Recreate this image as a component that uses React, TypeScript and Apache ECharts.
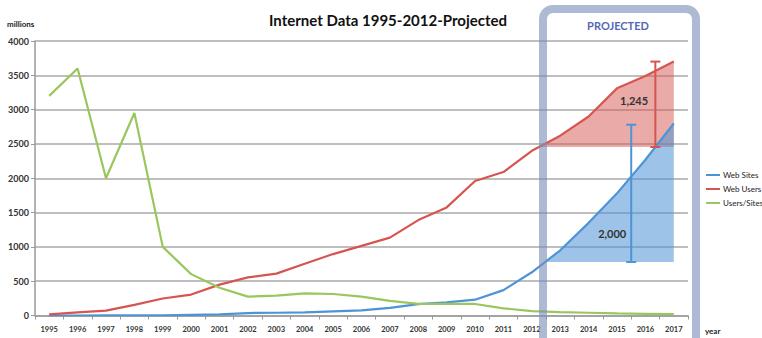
import React, { useEffect, useRef } from "react";
import * as echarts from "echarts";

// Years on the category axis
const years = [
  "1995", "1996", "1997", "1998", "1999", "2000", "2001", "2002", "2003", "2004", "2005", "2006",
  "2007", "2008", "2009", "2010", "2011", "2012", "2013", "2014", "2015", "2016", "2017",
];

// Values in millions
const webSites = [0, 0, 1, 2, 4, 10, 15, 36, 40, 45, 60, 75, 110, 165, 190, 230, 370, 630, 950, 1350, 1780, 2270, 2800];
const webUsers = [16, 45, 72, 155, 248, 305, 450, 555, 610, 755, 895, 1015, 1135, 1390, 1575, 1960, 2090, 2400, 2620, 2900, 3310, 3490, 3700];
const usersPerSite = [3200, 3600, 2000, 2950, 1000, 603, 405, 275, 290, 322, 313, 275, 212, 170, 170, 168, 105, 65, 50, 40, 30, 25, 20];

// Projected growth brackets
const projectedStart = "2012";
const sitesGain = 2000;
const sitesGainTop = 2780;
const usersGain = 1245;
const usersGainTop = 3700;

const BLUE = "#4d94d6";
const RED = "#d6564f";
const GREEN = "#9bc55d";
const FONT = "Lato, 'Open Sans', sans-serif";

function xAt(api: any, f: number) {
  const i0 = Math.floor(f);
  const i1 = Math.ceil(f);
  const p0 = api.coord([i0, 0])[0];
  const p1 = api.coord([i1, 0])[0];
  return p0 + (p1 - p0) * (f - i0);
}

// Shaded region between a series and a horizontal base level, from the projection start onwards
function gainArea(values: number[], base: number, fill: string) {
  const start = years.indexOf(projectedStart);
  return (params: any, api: any) => {
    if (params.dataIndex !== 0) return null;
    const yBase = api.coord([0, base])[1];
    const pts: number[][] = [];
    for (let i = start; i < values.length; i++) {
      const v = values[i];
      if (i > start) {
        const prev = values[i - 1];
        if ((prev - base) * (v - base) < 0) {
          const t = (base - prev) / (v - prev);
          pts.push([xAt(api, i - 1 + t), yBase]);
        }
      }
      if (v >= base) pts.push(api.coord([i, v]));
    }
    const lastX = api.coord([values.length - 1, 0])[0];
    pts.push([lastX, yBase]);
    return { type: "polygon", shape: { points: pts }, style: { fill } };
  };
}

// Vertical bracket with caps and a value label
function bracket(pos: number, top: number, gain: number, color: string, labelPos: number, labelVal: number) {
  return (params: any, api: any) => {
    if (params.dataIndex !== 0) return null;
    const x = xAt(api, pos);
    const yTop = api.coord([0, top])[1];
    const yBot = api.coord([0, top - gain])[1];
    const lx = xAt(api, labelPos);
    const ly = api.coord([0, labelVal])[1];
    const ls = { stroke: color, lineWidth: 2 };
    return {
      type: "group",
      children: [
        { type: "line", shape: { x1: x, y1: yTop, x2: x, y2: yBot }, style: ls },
        { type: "line", shape: { x1: x - 5, y1: yTop, x2: x + 5, y2: yTop }, style: ls },
        { type: "line", shape: { x1: x - 5, y1: yBot, x2: x + 5, y2: yBot }, style: ls },
        {
          type: "text",
          x: lx,
          y: ly,
          style: {
            text: gain.toLocaleString("en-US"),
            fill: "#333",
            font: `bold 11px ${FONT}`,
            align: "center",
            verticalAlign: "middle",
          },
        },
      ],
    };
  };
}

export default function App() {
  const ref = useRef<HTMLDivElement>(null);

  useEffect(() => {
    if (!ref.current) return;
    const chart = echarts.init(ref.current, undefined, { renderer: "svg" });
    const startIdx = years.indexOf(projectedStart);

    chart.setOption({
      animation: false,
      backgroundColor: "#ffffff",
      grid: { left: 35, right: 74, top: 41, bottom: 22.5 },
      legend: {
        orient: "vertical",
        left: 701,
        top: 166,
        itemGap: 6,
        itemWidth: 14,
        itemHeight: 2,
        icon: "rect",
        textStyle: { fontSize: 8, color: "#222", fontFamily: FONT, padding: [0, 0, 0, -2] },
        data: ["Web Sites", "Web Users", "Users/Sites"],
      },
      xAxis: {
        type: "category",
        data: years,
        boundaryGap: true,
        axisLine: { lineStyle: { color: "#9a9a9a", width: 1.5 } },
        axisTick: { show: true, length: 4, lineStyle: { color: "#9a9a9a" } },
        axisLabel: { interval: 0, fontSize: 7.5, color: "#333", fontWeight: "bold", fontFamily: FONT, margin: 10 },
      },
      yAxis: {
        type: "value",
        min: 0,
        max: 4000,
        interval: 500,
        axisLine: { show: true, lineStyle: { color: "#9a9a9a", width: 1.5 } },
        axisTick: { show: true, length: 4, lineStyle: { color: "#9a9a9a" } },
        axisLabel: {
          fontSize: 9,
          color: "#333",
          fontWeight: "bold",
          fontFamily: FONT,
          margin: 6,
          formatter: (v: number) => String(v),
        },
        splitLine: { lineStyle: { color: "#a8a8a8", width: 1.5 } },
      },
      series: [
        {
          type: "custom",
          name: "usersArea",
          renderItem: gainArea(webUsers, usersGainTop - usersGain, "rgba(214,86,79,0.5)"),
          data: [[startIdx, 0]],
          z: 1,
          silent: true,
        },
        {
          type: "custom",
          name: "sitesArea",
          renderItem: gainArea(webSites, sitesGainTop - sitesGain, "rgba(77,148,214,0.55)"),
          data: [[startIdx, 0]],
          z: 1,
          silent: true,
        },
        {
          name: "Web Sites",
          type: "line",
          data: webSites,
          symbol: "none",
          lineStyle: { color: BLUE, width: 2.2 },
          itemStyle: { color: BLUE },
          z: 3,
        },
        {
          name: "Web Users",
          type: "line",
          data: webUsers,
          symbol: "none",
          lineStyle: { color: RED, width: 2.2 },
          itemStyle: { color: RED },
          z: 3,
        },
        {
          name: "Users/Sites",
          type: "line",
          data: usersPerSite,
          symbol: "none",
          lineStyle: { color: GREEN, width: 2.2 },
          itemStyle: { color: GREEN },
          z: 3,
        },
        {
          type: "custom",
          name: "sitesBracket",
          renderItem: bracket(20.5, sitesGainTop, sitesGain, BLUE, 19.83, 1200),
          data: [[startIdx, 0]],
          z: 4,
          silent: true,
        },
        {
          type: "custom",
          name: "usersBracket",
          renderItem: bracket(21.35, usersGainTop, usersGain, RED, 20.6, 3130),
          data: [[startIdx, 0]],
          z: 4,
          silent: true,
        },
      ],
      graphic: [
        {
          type: "text",
          x: 388,
          y: 20,
          style: {
            text: "Internet Data 1995-2012-Projected",
            font: `bold 15px ${FONT}`,
            fill: "#111",
            align: "center",
            verticalAlign: "middle",
          },
        },
        {
          type: "text",
          x: 7,
          y: 24,
          style: { text: "millions", font: `bold 8px ${FONT}`, fill: "#222", verticalAlign: "middle" },
        },
        {
          type: "text",
          x: 705,
          y: 331,
          style: { text: "year", font: `bold 8px ${FONT}`, fill: "#222", verticalAlign: "middle" },
        },
        {
          type: "rect",
          shape: { x: 543, y: 9, width: 153, height: 345, r: 10 },
          style: { fill: "none", stroke: "rgba(125,143,185,0.62)", lineWidth: 8 },
          z: 100,
        },
        {
          type: "text",
          x: 618,
          y: 25,
          z: 100,
          style: {
            text: "PROJECTED",
            font: `bold 11px ${FONT}`,
            fill: "#5468b5",
            align: "center",
            verticalAlign: "middle",
          },
        },
      ],
    });

    return () => chart.dispose();
  }, []);

  return <div ref={ref} style={{ position: "fixed", left: 0, top: 0, width: 762, height: 338 }} />;
}
